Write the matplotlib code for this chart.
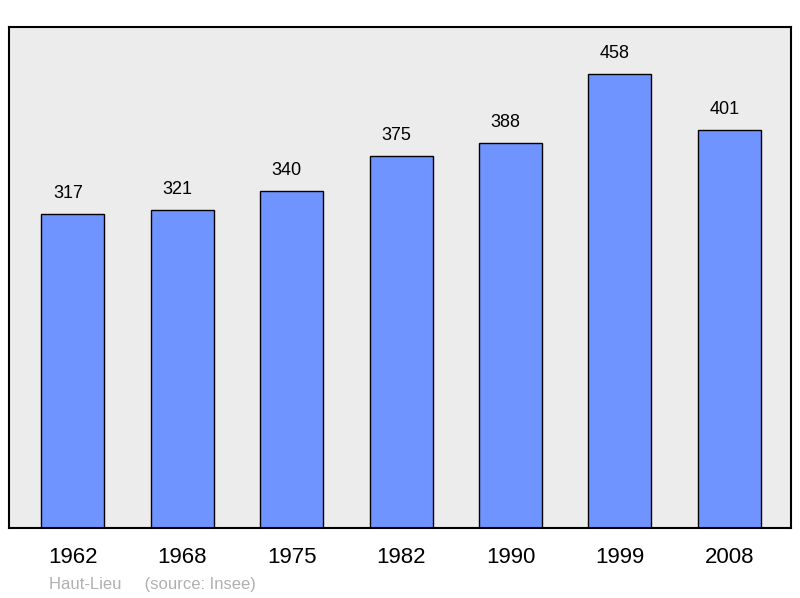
import matplotlib
matplotlib.use('Agg')
import matplotlib.pyplot as plt
import numpy as np

years = ['1962', '1968', '1975', '1982', '1990', '1999', '2008']
population = [317, 321, 340, 375, 388, 458, 401]

fig = plt.figure(figsize=(8, 5.98), dpi=100)
ax = fig.add_axes([9/800, 1 - 528/598, 782/800, 501/598])
ax.set_facecolor('#ececec')

x = np.arange(len(years))
ax.bar(x, population, width=0.576, color='#7094ff', edgecolor='black', linewidth=1)
for xi, v in zip(x, population):
    # labels sit a little left of the bar centre in the original
    ax.text(xi - 0.045, v + 12, str(v), ha='center', va='bottom', fontsize=13, family='Liberation Sans')

ax.set_xlim(-0.585, 6.565)
ax.set_ylim(0, 505)
ax.set_yticks([])
ax.set_xticks(x)
ax.set_xticklabels(years, fontsize=16, family='Liberation Sans')
ax.tick_params(axis='x', length=0, pad=14)
for s in ax.spines.values():
    s.set_linewidth(1.5)

fig.text(49/800, 1 - 584/598, 'Haut-Lieu     (source: Insee)', fontsize=12,
         color='#b0b0b0', va='center', family='Liberation Sans')

fig.savefig('out.png', dpi=100)
